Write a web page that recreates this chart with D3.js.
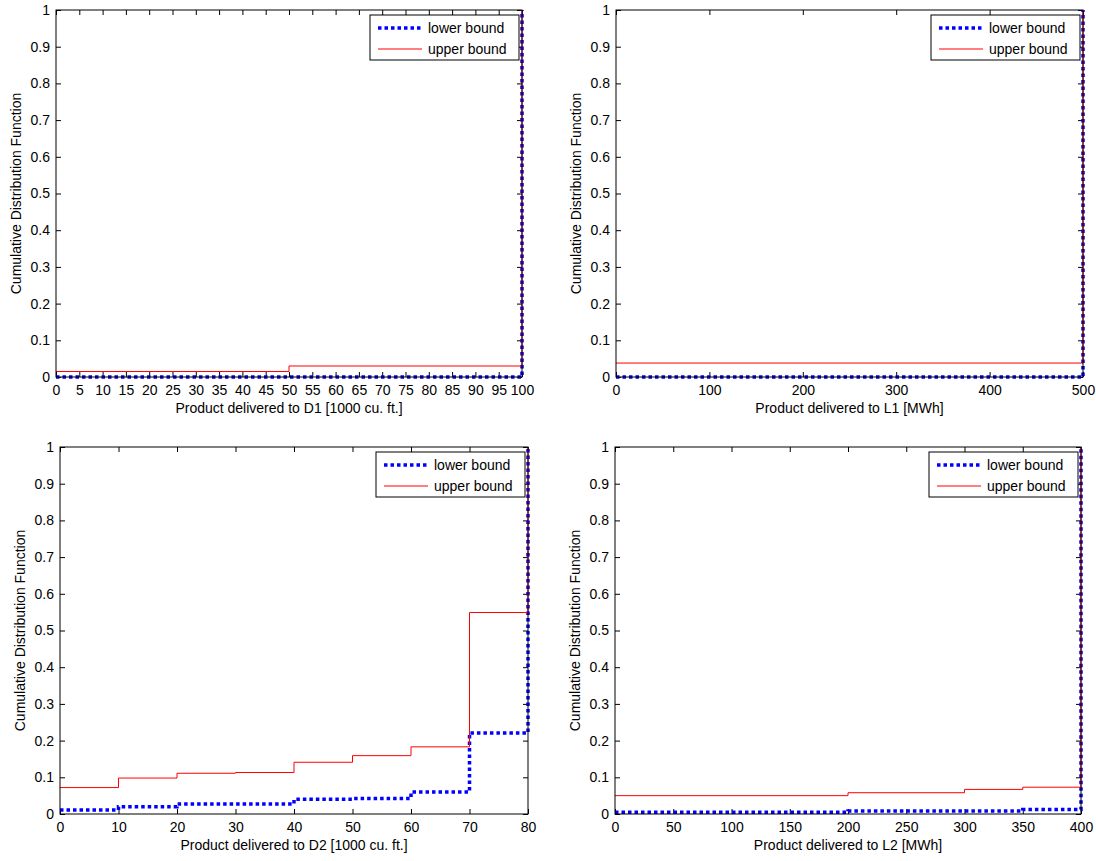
<!DOCTYPE html>
<html>
<head>
<meta charset="utf-8">
<script src="https://cdn.jsdelivr.net/npm/d3@7"></script>
<style>
  body { margin: 0; background: #fff; }
  svg { display: block; font-family: "Liberation Sans", Arial, Helvetica, sans-serif; }
</style>
</head>
<body>
<svg id="chart" width="1096" height="861"></svg>
<script>
// ---- data ----
const yTicks = [0, 0.1, 0.2, 0.3, 0.4, 0.5, 0.6, 0.7, 0.8, 0.9, 1];
const legendLabels = ["lower bound", "upper bound"];
const yLabel = "Cumulative Distribution Function";

// D1
const d1Ticks = [0,5,10,15,20,25,30,35,40,45,50,55,60,65,70,75,80,85,90,95,100];
const d1Edges = [0, 50, 100];
const d1Lower = [0, 0, 1];
const d1Upper = [0.015, 0.03, 1];
const d1Label = "Product delivered to D1 [1000 cu. ft.]";

// L1
const l1Ticks = [0, 100, 200, 300, 400, 500];
const l1Edges = [0, 500];
const l1Lower = [0, 1];
const l1Upper = [0.038, 1];
const l1Label = "Product delivered to L1 [MWh]";

// D2
const d2Ticks = [0, 10, 20, 30, 40, 50, 60, 70, 80];
const d2Edges = [0, 10, 20, 30, 40, 50, 60, 70, 80];
const d2Lower = [0.011, 0.02, 0.027, 0.027, 0.04, 0.042, 0.06, 0.221, 1];
const d2Upper = [0.072, 0.098, 0.111, 0.113, 0.141, 0.159, 0.183, 0.549, 1];
const d2Label = "Product delivered to D2 [1000 cu. ft.]";

// L2
const l2Ticks = [0, 50, 100, 150, 200, 250, 300, 350, 400];
const l2Edges = [0, 200, 300, 350, 400];
const l2Lower = [0.005, 0.008, 0.008, 0.012, 1];
const l2Upper = [0.05, 0.058, 0.067, 0.073, 1];
const l2Label = "Product delivered to L2 [MWh]";

// ---- layout ----
const panels = [
  { left: 56,  top: 10,  width: 466, height: 367, ticks: d1Ticks, edges: d1Edges, lower: d1Lower, upper: d1Upper, label: d1Label },
  { left: 616, top: 10,  width: 467, height: 367, ticks: l1Ticks, edges: l1Edges, lower: l1Lower, upper: l1Upper, label: l1Label },
  { left: 60,  top: 447, width: 468, height: 367, ticks: d2Ticks, edges: d2Edges, lower: d2Lower, upper: d2Upper, label: d2Label },
  { left: 615, top: 447, width: 466, height: 367, ticks: l2Ticks, edges: l2Edges, lower: l2Lower, upper: l2Upper, label: l2Label }
];

const svg = d3.select("#chart");
const fontSize = 14;
const tickLen = 5;
const blue = "#0000ff", red = "#ff0000";

panels.forEach(p => {
  const g = svg.append("g").attr("transform", `translate(${p.left},${p.top})`);
  const x = d3.scaleLinear().domain([p.ticks[0], p.ticks[p.ticks.length - 1]]).range([0, p.width]);
  const y = d3.scaleLinear().domain([0, 1]).range([p.height, 0]);

  // axes (MATLAB-style: inward ticks on all four sides)
  const xb = g.append("g").attr("transform", `translate(0,${p.height})`)
    .call(d3.axisBottom(x).tickValues(p.ticks).tickSizeInner(-tickLen).tickSizeOuter(0).tickPadding(8).tickFormat(d3.format("d")));
  const xt = g.append("g")
    .call(d3.axisTop(x).tickValues(p.ticks).tickSizeInner(-tickLen).tickSizeOuter(0).tickFormat(""));
  const yl = g.append("g")
    .call(d3.axisLeft(y).tickValues(yTicks).tickSizeInner(-tickLen).tickSizeOuter(0).tickPadding(6).tickFormat(d => d === 0 || d === 1 ? String(d) : d3.format(".1f")(d)));
  const yr = g.append("g").attr("transform", `translate(${p.width},0)`)
    .call(d3.axisRight(y).tickValues(yTicks).tickSizeInner(-tickLen).tickSizeOuter(0).tickFormat(""));
  [xb, xt, yl, yr].forEach(a => {
    a.select(".domain").remove();
    a.selectAll("line").attr("stroke", "#000");
    a.selectAll("text").attr("fill", "#000").style("font-size", fontSize + "px").style("font-family", '"Liberation Sans", Arial, sans-serif');
  });

  // data lines
  const pts = vals => p.edges.map((e, i) => [e, vals[i]]);
  const line = d3.line().x(d => x(d[0])).y(d => y(d[1])).curve(d3.curveStepAfter);
  g.append("path").attr("d", line(pts(p.lower)))
    .attr("fill", "none").attr("stroke", blue).attr("stroke-width", 3.5).attr("stroke-dasharray", "3.5,3");
  g.append("path").attr("d", line(pts(p.upper)))
    .attr("fill", "none").attr("stroke", red).attr("stroke-width", 1);

  // box
  g.append("rect").attr("x", 0).attr("y", 0).attr("width", p.width).attr("height", p.height)
    .attr("fill", "none").attr("stroke", "#000").attr("stroke-width", 1);

  // labels
  g.append("text").attr("x", p.width / 2).attr("y", p.height + 36)
    .attr("text-anchor", "middle").style("font-size", fontSize + "px").text(p.label);
  g.append("text").attr("transform", `translate(-35,${p.height / 2}) rotate(-90)`)
    .attr("text-anchor", "middle").style("font-size", fontSize + "px").text(yLabel);

  // legend
  const lw = 149, lh = 45;
  const lg = g.append("g").attr("transform", `translate(${p.width - lw - 3},${5})`);
  lg.append("rect").attr("width", lw).attr("height", lh).attr("fill", "#fff").attr("stroke", "#000").attr("stroke-width", 1);
  const styles = [
    { stroke: blue, w: 3.5, dash: "3.5,3" },
    { stroke: red, w: 1, dash: null }
  ];
  legendLabels.forEach((lab, i) => {
    const cy = 13 + i * 21;
    lg.append("line").attr("x1", 8).attr("x2", 52).attr("y1", cy).attr("y2", cy)
      .attr("stroke", styles[i].stroke).attr("stroke-width", styles[i].w)
      .attr("stroke-dasharray", styles[i].dash);
    lg.append("text").attr("x", 58).attr("y", cy + 5).style("font-size", fontSize + "px").text(lab);
  });
});
</script>
</body>
</html>
